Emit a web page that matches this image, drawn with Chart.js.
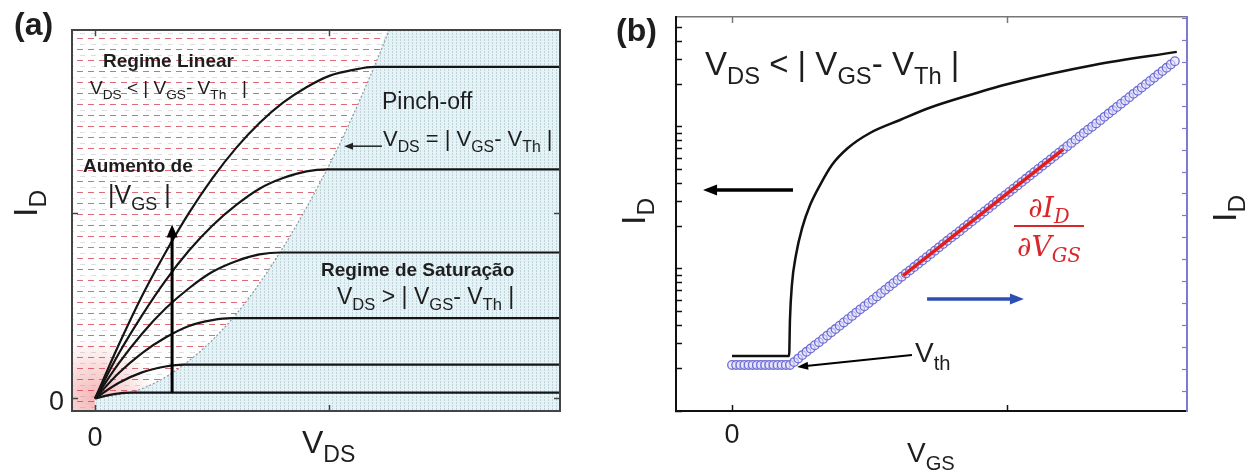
<!DOCTYPE html>
<html>
<head>
<meta charset="utf-8">
<title>MOSFET - regimes e transcondutância</title>
<script src="https://cdn.jsdelivr.net/npm/chart.js"></script>
<style>
  body { margin: 0; background: #fff; }
  #wrap { position: relative; width: 1246px; height: 475px; overflow: hidden; }
  canvas { position: absolute; top: 0; }
  #chartA { left: 0; }
  #chartB { left: 600px; }
  .t { position: absolute; font-family: 'Liberation Sans', Arial, sans-serif; color: #1e1e1e; white-space: nowrap; line-height: 1; z-index: 2; }
  .t sub { font-size: 0.72em; vertical-align: -0.38em; line-height: 0; }
  .b { font-weight: bold; }
  .rot { transform-origin: 0 0; transform: rotate(-90deg); }
  .frac { position: absolute; font-family: 'DejaVu Serif', serif; font-style: italic; color: #d9262b; font-size: 28px; line-height: 1; text-align: center; z-index: 2; }
  .frac sub { font-size: 0.7em; vertical-align: -0.3em; line-height: 0; }
  .frac .bar { height: 2px; background: #d9262b; margin: 3px 0 6px 0; }
</style>
</head>
<body>
<div id="wrap">
  <canvas id="chartA" width="600" height="475"></canvas>
  <canvas id="chartB" width="646" height="475"></canvas>

  <!-- panel (a) text -->
  <div class="t b" style="left:14px;top:8px;font-size:32px">(a)</div>
  <div class="t b" style="left:103px;top:51px;font-size:19px">Regime Linear</div>
  <div class="t" style="left:90px;top:78px;font-size:19px">V<sub>DS</sub> &lt; | V<sub>GS</sub>- V<sub>Th</sub>&nbsp;&nbsp; |</div>
  <div class="t" style="left:382px;top:90px;font-size:23px">Pinch-off</div>
  <div class="t" style="left:383px;top:128px;font-size:22px">V<sub>DS</sub> = | V<sub>GS</sub>- V<sub>Th</sub> |</div>
  <div class="t b" style="left:83px;top:156px;font-size:19px">Aumento de</div>
  <div class="t" style="left:108px;top:182px;font-size:25px">|V<sub>GS</sub> |</div>
  <div class="t b" style="left:321px;top:260px;font-size:19px">Regime de Saturação</div>
  <div class="t" style="left:337px;top:285px;font-size:23px">V<sub>DS</sub> &gt; | V<sub>GS</sub>- V<sub>Th</sub> |</div>
  <div class="t" style="left:302px;top:426px;font-size:32px">V<sub>DS</sub></div>
  <div class="t rot" style="left:8px;top:217px;font-size:34px">I<sub>D</sub></div>

  <!-- panel (b) text -->
  <div class="t b" style="left:616px;top:14px;font-size:32px">(b)</div>
  <div class="t" style="left:705px;top:47px;font-size:33px">V<sub>DS</sub> &lt; | V<sub>GS</sub>- V<sub>Th</sub> |</div>
  <div class="frac" style="left:1014px;top:194px;width:70px">
    <div>∂I<sub>D</sub></div>
    <div class="bar"></div>
    <div>∂V<sub>GS</sub></div>
  </div>
  <div class="t" style="left:915px;top:339px;font-size:28px">V<sub>th</sub></div>
  <div class="t" style="left:907px;top:439px;font-size:28px">V<sub>GS</sub></div>
  <div class="t rot" style="left:616px;top:225px;font-size:34px">I<sub>D</sub></div>
  <div class="t rot" style="left:1207px;top:222px;font-size:34px">I<sub>D</sub></div>
</div>

<script>
// ---------- panel (a): I_D x V_DS ----------
const vdsTicks = [0, 1];
const idTicksA = [0, 1.91];
const vdsRange = [-0.098, 1.979];
const idRangeA = [-0.13, 3.81];

// pinch-off boundary V_DS = |V_GS - V_Th|
const pinchVds = [0, 0.2, 0.4, 0.6, 0.8, 1.0, 1.1, 1.2, 1.252];
const pinchId = [0, 0.10, 0.39, 0.87, 1.56, 2.43, 2.94, 3.50, 3.81];

// output curves, one per V_GS (highest first)
const vds1 = [0, 0.1, 0.2, 0.3, 0.4, 0.5, 0.6, 0.7, 0.8, 0.9, 1.0, 1.1, 1.19, 1.979];
const id1 = [0, 0.55, 1.06, 1.51, 1.92, 2.28, 2.59, 2.85, 3.06, 3.22, 3.34, 3.40, 3.43, 3.43];
const vds2 = [0, 0.1, 0.2, 0.3, 0.4, 0.5, 0.6, 0.7, 0.8, 0.9, 0.99, 1.979];
const id2 = [0, 0.46, 0.86, 1.22, 1.53, 1.79, 2.00, 2.17, 2.28, 2.35, 2.37, 2.37];
const vds3 = [0, 0.1, 0.2, 0.3, 0.4, 0.5, 0.6, 0.7, 0.79, 1.979];
const id3 = [0, 0.36, 0.67, 0.93, 1.14, 1.31, 1.42, 1.49, 1.51, 1.51];
const vds4 = [0, 0.1, 0.2, 0.3, 0.4, 0.5, 0.58, 1.979];
const id4 = [0, 0.26, 0.47, 0.63, 0.75, 0.81, 0.83, 0.83];
const vds5 = [0, 0.1, 0.2, 0.3, 0.38, 1.979];
const id5 = [0, 0.16, 0.27, 0.33, 0.35, 0.35];
const vds6 = [0, 0.08, 0.16, 1.979];
const id6 = [0, 0.045, 0.06, 0.06];

// ---------- panel (b): I_D x V_GS ----------
const vgsTicks = [0, 1];
const vgsRange = [-0.203, 1.649];
const logIdRange = [1, 595];
const logIdTicks = [1, 2, 3, 4, 5, 6, 7, 8, 9, 10, 20, 30, 40, 50, 60, 70, 80, 90, 100, 200, 300, 400, 500];
const linIdRange = [-0.913, 17.08];
const linIdTicks = [0, 1, 2, 3, 4, 5, 6, 7, 8, 9, 10, 11, 12, 13, 14, 15, 16, 17];

// log scale (left axis)
const vgsLog = [0, 0.207, 0.210, 0.217, 0.232, 0.254, 0.283, 0.319, 0.362, 0.420, 0.500, 0.609, 0.714, 0.862, 1.014, 1.312, 1.612];
const idLog = [2.44, 2.44, 4.37, 7.71, 12.6, 19.4, 28.2, 39.0, 54, 71.1, 90.7, 112, 136, 168, 204, 273, 338];

// linear scale (right axis), measured sweep
const vgsSweep = [0, 0.015, 0.03, 0.045, 0.06, 0.075, 0.09, 0.105, 0.12, 0.135,
  0.15, 0.165, 0.18, 0.195, 0.21, 0.225, 0.24, 0.255, 0.27, 0.285,
  0.3, 0.315, 0.33, 0.345, 0.36, 0.375, 0.39, 0.405, 0.42, 0.435,
  0.45, 0.465, 0.48, 0.495, 0.51, 0.525, 0.54, 0.555, 0.57, 0.585,
  0.6, 0.615, 0.63, 0.645, 0.66, 0.675, 0.69, 0.705, 0.72, 0.735,
  0.75, 0.765, 0.78, 0.795, 0.81, 0.825, 0.84, 0.855, 0.87, 0.885,
  0.9, 0.915, 0.93, 0.945, 0.96, 0.975, 0.99, 1.005, 1.02, 1.035,
  1.05, 1.065, 1.08, 1.095, 1.11, 1.125, 1.14, 1.155, 1.17, 1.185,
  1.2, 1.215, 1.23, 1.245, 1.26, 1.275, 1.29, 1.305, 1.32, 1.335,
  1.35, 1.365, 1.38, 1.395, 1.41, 1.425, 1.44, 1.455, 1.47, 1.485,
  1.5, 1.515, 1.53, 1.545, 1.56, 1.575, 1.59, 1.605];
const idLinear = [1.19, 1.19, 1.19, 1.19, 1.19, 1.19, 1.19, 1.19, 1.19, 1.19,
  1.19, 1.19, 1.19, 1.19, 1.19, 1.32, 1.48, 1.64, 1.79, 1.94,
  2.09, 2.23, 2.38, 2.53, 2.68, 2.83, 2.98, 3.13, 3.28, 3.43,
  3.58, 3.73, 3.87, 4.02, 4.17, 4.32, 4.47, 4.62, 4.77, 4.92,
  5.07, 5.22, 5.37, 5.51, 5.66, 5.81, 5.96, 6.11, 6.26, 6.41,
  6.56, 6.71, 6.86, 7.01, 7.15, 7.30, 7.45, 7.60, 7.75, 7.90,
  8.05, 8.20, 8.35, 8.50, 8.65, 8.79, 8.94, 9.09, 9.24, 9.39,
  9.54, 9.69, 9.84, 9.99, 10.14, 10.29, 10.43, 10.58, 10.73, 10.88,
  11.03, 11.18, 11.33, 11.48, 11.63, 11.78, 11.93, 12.07, 12.22, 12.37,
  12.52, 12.67, 12.82, 12.97, 13.12, 13.27, 13.42, 13.57, 13.71, 13.86,
  14.01, 14.16, 14.31, 14.46, 14.61, 14.76, 14.91, 15.06];

// linear fit giving dI_D/dV_GS
const vgsFit = [0.62, 1.2];
const idFit = [5.27, 11.03];

const toXY = (xs, ys) => xs.map((x, i) => ({ x: x, y: ys[i] }));

// inward tick marks, border drawn above the datasets; size = room kept for labels
function axis(position, range, tickValues, color, size, extra) {
  const horizontal = position === 'top' || position === 'bottom';
  return Object.assign({
    type: 'linear',
    position: position,
    min: range[0],
    max: range[1],
    grid: { drawOnChartArea: false, drawTicks: true, tickLength: -6, tickColor: color, tickWidth: 1.5, z: 1 },
    border: { display: true, color: color, width: 2, z: 1 },
    ticks: { display: false, z: 1 },
    afterBuildTicks: (s) => { s.ticks = tickValues.map(v => ({ value: v })); },
    afterFit: (s) => { if (horizontal) s.height = size; else s.width = size; }
  }, extra || {});
}

const zeroLabel = (padding, offset) => ({
  display: true, z: 1, padding: padding, labelOffset: offset || 0,
  color: '#1e1e1e', autoSkip: false, maxRotation: 0,
  font: { family: "'Liberation Sans', Arial, sans-serif", size: 27 },
  callback: (v) => (v === 0 ? '0' : '')
});

const arrowPlugin = {
  id: 'arrows',
  afterDatasetsDraw(chart, args, opts) {
    const ctx = chart.ctx;
    (opts.list || []).forEach(a => {
      const xs = chart.scales.x, ys = chart.scales[a.yAxis || 'y'];
      const x1 = xs.getPixelForValue(a.from[0]), y1 = ys.getPixelForValue(a.from[1]);
      const x2 = xs.getPixelForValue(a.to[0]), y2 = ys.getPixelForValue(a.to[1]);
      const ang = Math.atan2(y2 - y1, x2 - x1);
      const c = Math.cos(ang), s = Math.sin(ang);
      const hl = a.head, hw = a.headWidth / 2;
      ctx.save();
      ctx.strokeStyle = a.color;
      ctx.fillStyle = a.color;
      ctx.lineWidth = a.width;
      ctx.beginPath();
      ctx.moveTo(x1, y1);
      ctx.lineTo(x2 - c * hl * 0.8, y2 - s * hl * 0.8);
      ctx.stroke();
      ctx.beginPath();
      ctx.moveTo(x2, y2);
      ctx.lineTo(x2 - c * hl - s * hw, y2 - s * hl + c * hw);
      ctx.lineTo(x2 - c * hl + s * hw, y2 - s * hl - c * hw);
      ctx.closePath();
      ctx.fill();
      ctx.restore();
    });
  }
};

// red dashed background of the linear region + glow near the origin
const hatchPlugin = {
  id: 'hatch',
  beforeDraw(chart, args, opts) {
    const { ctx, chartArea: a, scales } = chart;
    ctx.save();
    ctx.beginPath();
    ctx.rect(a.left, a.top, a.right - a.left, a.bottom - a.top);
    ctx.clip();
    ctx.fillStyle = opts.pattern;
    ctx.fillRect(a.left, a.top, a.right - a.left, a.bottom - a.top);
    const ox = scales.x.getPixelForValue(0), oy = scales.y.getPixelForValue(0);
    const g = ctx.createRadialGradient(ox, oy, 0, ox, oy, opts.glow);
    g.addColorStop(0, 'rgba(226, 70, 70, 0.4)');
    g.addColorStop(1, 'rgba(226, 70, 70, 0)');
    ctx.fillStyle = g;
    ctx.fillRect(a.left, a.top, a.right - a.left, a.bottom - a.top);
    ctx.restore();
  }
};

document.addEventListener('DOMContentLoaded', function () {
  // panel (a)
  const ctxA = document.getElementById('chartA').getContext('2d');

  const redTile = document.createElement('canvas');
  redTile.width = 11; redTile.height = 11;
  const rt = redTile.getContext('2d');
  rt.fillStyle = 'rgba(214, 80, 95, 0.85)';
  rt.fillRect(0, 5, 6, 1);
  rt.fillStyle = 'rgba(150, 150, 160, 0.3)';
  rt.fillRect(3, 0, 5, 1);
  const redPattern = ctxA.createPattern(redTile, 'repeat');

  const blueTile = document.createElement('canvas');
  blueTile.width = 4; blueTile.height = 3;
  const bt = blueTile.getContext('2d');
  bt.fillStyle = '#e5f2f6';
  bt.fillRect(0, 0, 4, 3);
  bt.fillStyle = '#c0d4db';
  bt.fillRect(0, 0, 1, 2);
  const bluePattern = ctxA.createPattern(blueTile, 'repeat');

  const curvesA = [[vds1, id1], [vds2, id2], [vds3, id3], [vds4, id4], [vds5, id5], [vds6, id6]];

  new Chart(ctxA, {
    type: 'line',
    data: {
      datasets: [
        ...curvesA.map(([xs, ys]) => ({
          data: toXY(xs, ys),
          borderColor: '#151515',
          borderWidth: 2.2,
          pointRadius: 0,
          cubicInterpolationMode: 'monotone',
          order: 1
        })),
        {
          data: toXY(pinchVds, pinchId),
          borderColor: '#8e9aa0',
          borderWidth: 1.2,
          borderDash: [2, 2],
          pointRadius: 0,
          cubicInterpolationMode: 'monotone',
          order: 2
        },
        {
          data: toXY(pinchVds.concat(vdsRange[1]), pinchId.concat(idRangeA[1])),
          fill: 'start',
          backgroundColor: bluePattern,
          borderWidth: 0,
          pointRadius: 0,
          cubicInterpolationMode: 'monotone',
          order: 10
        }
      ]
    },
    options: {
      responsive: false,
      animation: false,
      events: [],
      layout: { padding: { left: 32, top: 17, right: 40, bottom: 14 } },
      plugins: {
        legend: { display: false },
        tooltip: { enabled: false },
        hatch: { pattern: redPattern, glow: 60 },
        arrows: {
          list: [
            { from: [0.328, 0.06], to: [0.328, 1.80], color: '#000', width: 3, head: 13, headWidth: 11 },
            { from: [1.221, 2.61], to: [1.06, 2.61], color: '#222', width: 1.5, head: 9, headWidth: 7 }
          ]
        }
      },
      scales: {
        x: axis('bottom', vdsRange, vdsTicks, '#444', 50, { ticks: zeroLabel(17) }),
        xTop: axis('top', vdsRange, vdsTicks, '#444', 0),
        y: axis('left', idRangeA, idTicksA, '#444', 40, { ticks: zeroLabel(14, 4) }),
        yRight: axis('right', idRangeA, idTicksA, '#444', 0)
      }
    },
    plugins: [hatchPlugin, arrowPlugin]
  });

  // panel (b)
  const ctxB = document.getElementById('chartB').getContext('2d');
  new Chart(ctxB, {
    type: 'line',
    data: {
      datasets: [
        {
          data: toXY(vgsSweep, idLinear),
          yAxisID: 'yR',
          showLine: false,
          pointRadius: 4.3,
          pointBorderWidth: 1.3,
          pointBorderColor: '#6f6cd6',
          pointBackgroundColor: 'rgba(225, 225, 250, 0.6)',
          order: 3
        },
        {
          data: toXY(vgsFit, idFit),
          yAxisID: 'yR',
          borderColor: '#e31c1c',
          borderWidth: 3.5,
          pointRadius: 0,
          order: 1
        },
        {
          data: toXY(vgsLog, idLog),
          yAxisID: 'yL',
          borderColor: '#111',
          borderWidth: 2.5,
          pointRadius: 0,
          cubicInterpolationMode: 'monotone',
          order: 2
        }
      ]
    },
    options: {
      responsive: false,
      animation: false,
      events: [],
      layout: { padding: { left: 76, top: 17, right: 59, bottom: 14 } },
      plugins: {
        legend: { display: false },
        tooltip: { enabled: false },
        arrows: {
          list: [
            { from: [0.221, 36], to: [-0.105, 36], yAxis: 'yL', color: '#000', width: 3.5, head: 14, headWidth: 11 },
            { from: [0.707, 4.2], to: [1.058, 4.2], yAxis: 'yR', color: '#2c4fb5', width: 3.5, head: 14, headWidth: 11 },
            { from: [0.652, 1.64], to: [0.236, 1.10], yAxis: 'yR', color: '#000', width: 2, head: 11, headWidth: 8 }
          ]
        }
      },
      scales: {
        x: axis('bottom', vgsRange, vgsTicks, '#111', 50, { ticks: zeroLabel(14) }),
        xTop: axis('top', vgsRange, vgsTicks, '#777', 0, { border: { display: true, color: '#777', width: 1.5, z: 1 } }),
        yL: axis('left', logIdRange, logIdTicks, '#111', 0, { type: 'logarithmic' }),
        yR: axis('right', linIdRange, linIdTicks, '#7b7bd4', 0, {
          grid: { drawOnChartArea: false, drawTicks: true, tickLength: -5, tickColor: '#7b7bd4', tickWidth: 1.2, z: 1 }
        })
      }
    },
    plugins: [arrowPlugin]
  });
});
</script>
</body>
</html>
